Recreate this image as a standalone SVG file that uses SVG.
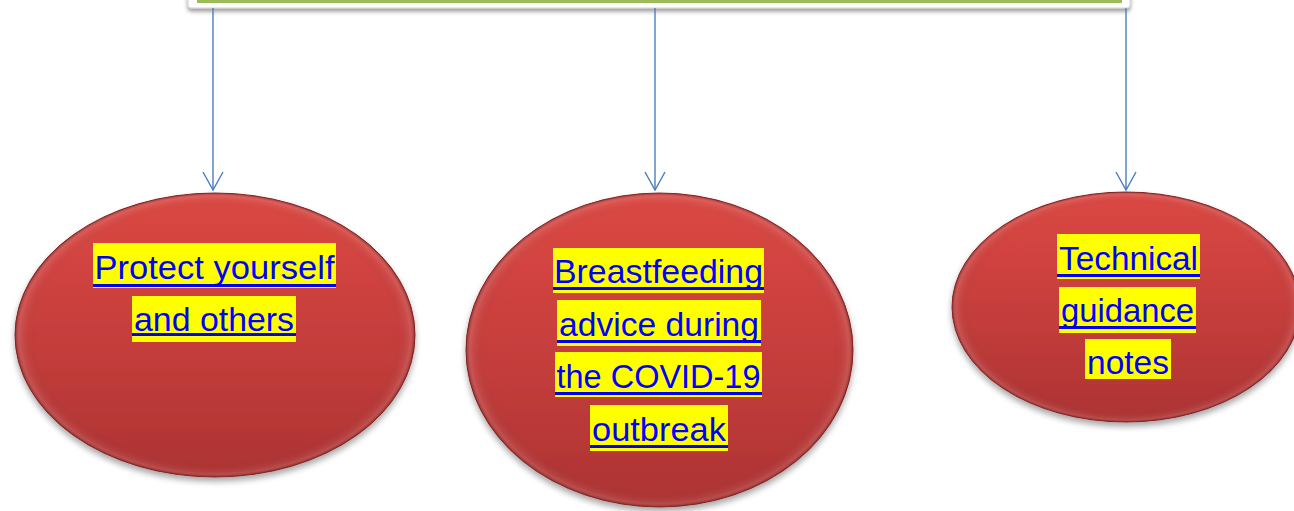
<svg xmlns="http://www.w3.org/2000/svg" width="1294" height="511" viewBox="0 0 1294 511">
<style>
.conn{stroke:#4a7ebb;stroke-width:1.4;fill:none;marker-end:url(#chev)}
.hl{fill:#ffff00}
.ul{fill:#0000ff}
.lbl{font-family:"Liberation Sans",Arial,sans-serif;font-size:33px;fill:#0000ff;text-anchor:middle}
.oval{fill:url(#redGrad);stroke:#8e2626;stroke-width:1;filter:url(#shadow)}
.bevel{fill:url(#bevelGrad)}
</style>
<defs>
<linearGradient id="redGrad" x1="0" y1="0" x2="0" y2="1">
<stop offset="0" stop-color="#dc4844"/>
<stop offset="0.5" stop-color="#c63e3c"/>
<stop offset="1" stop-color="#ad3333"/>
</linearGradient>
<radialGradient id="bevelGrad" cx="0.5" cy="0.5" r="0.5">
<stop offset="0.9" stop-color="#000" stop-opacity="0"/>
<stop offset="0.97" stop-color="#ffffff" stop-opacity="0.08"/>
<stop offset="1" stop-color="#5a1010" stop-opacity="0.45"/>
</radialGradient>
<filter id="shadow" x="-10%" y="-10%" width="120%" height="125%">
<feGaussianBlur in="SourceAlpha" stdDeviation="3"/>
<feOffset dy="4" result="b"/>
<feComponentTransfer><feFuncA type="linear" slope="0.35"/></feComponentTransfer>
<feMerge><feMergeNode/><feMergeNode in="SourceGraphic"/></feMerge>
</filter>
<filter id="boxShadow" x="-5%" y="-50%" width="110%" height="300%">
<feGaussianBlur in="SourceAlpha" stdDeviation="2"/>
<feOffset dy="3"/>
<feComponentTransfer><feFuncA type="linear" slope="0.4"/></feComponentTransfer>
<feMerge><feMergeNode/><feMergeNode in="SourceGraphic"/></feMerge>
</filter>
<marker id="chev" markerUnits="userSpaceOnUse" viewBox="-22 -12 24 24" refX="0" refY="0" markerWidth="24" markerHeight="24" orient="auto" overflow="visible">
<path d="M-18,-10 L0,0 L-18,10" fill="none" stroke="#4a7ebb" stroke-width="1.4"/>
</marker>
</defs>

<g id="top-box">
<rect x="188" y="-12" width="942" height="20" rx="3" fill="#ffffff" stroke="#d0d0d0" stroke-width="1" filter="url(#boxShadow)"/>
<rect x="197" y="-2" width="925" height="5" fill="#9bbb59"/>
</g>

<g id="connectors">
<line class="conn" x1="213" y1="8" x2="213" y2="190"/>
<line class="conn" x1="655" y1="8" x2="655" y2="190"/>
<line class="conn" x1="1126" y1="8" x2="1126" y2="190"/>
</g>

<g id="node-protect">
<ellipse class="oval" cx="215" cy="335" rx="200" ry="142"/>
<ellipse class="bevel" cx="215" cy="335" rx="200" ry="142"/>
<rect class="hl" x="93" y="243" width="243" height="45"/>
<rect class="hl" x="132" y="296" width="164" height="46"/>
<rect class="ul" x="93" y="284" width="243" height="3"/>
<rect class="ul" x="132" y="333" width="164" height="3"/>
<text class="lbl" x="214.5" y="279" textLength="240" lengthAdjust="spacingAndGlyphs">Protect yourself</text>
<text class="lbl" x="214" y="331" textLength="160" lengthAdjust="spacingAndGlyphs">and others</text>
</g>

<g id="node-breastfeeding">
<ellipse class="oval" cx="659.5" cy="350" rx="193.5" ry="157"/>
<ellipse class="bevel" cx="659.5" cy="350" rx="193.5" ry="157"/>
<rect class="hl" x="553" y="248" width="211" height="45"/>
<rect class="hl" x="557" y="300" width="204" height="46"/>
<rect class="hl" x="555" y="352" width="207" height="45"/>
<rect class="hl" x="590" y="405" width="138" height="46"/>
<rect class="ul" x="553" y="287" width="211" height="3"/>
<rect class="ul" x="557" y="340" width="204" height="3"/>
<rect class="ul" x="555" y="392" width="207" height="3"/>
<rect class="ul" x="590" y="445" width="138" height="3"/>
<text class="lbl" x="658.5" y="283" textLength="209" lengthAdjust="spacingAndGlyphs">Breastfeeding</text>
<text class="lbl" x="659" y="336" textLength="200" lengthAdjust="spacingAndGlyphs">advice during</text>
<text class="lbl" x="658.5" y="388" textLength="204" lengthAdjust="spacingAndGlyphs">the COVID-19</text>
<text class="lbl" x="659" y="441" textLength="134" lengthAdjust="spacingAndGlyphs">outbreak</text>
</g>

<g id="node-technical">
<ellipse class="oval" cx="1126" cy="307" rx="174" ry="115"/>
<ellipse class="bevel" cx="1126" cy="307" rx="174" ry="115"/>
<rect class="hl" x="1057" y="234" width="143" height="45"/>
<rect class="hl" x="1059" y="287" width="137" height="46"/>
<rect class="hl" x="1085" y="339" width="86" height="40"/>
<rect class="ul" x="1057" y="274" width="143" height="3"/>
<rect class="ul" x="1059" y="326" width="137" height="3"/>
<text class="lbl" x="1128.5" y="270" textLength="139" lengthAdjust="spacingAndGlyphs">Technical</text>
<text class="lbl" x="1127.5" y="322" textLength="133" lengthAdjust="spacingAndGlyphs">guidance</text>
<text class="lbl" x="1128" y="374" textLength="82" lengthAdjust="spacingAndGlyphs">notes</text>
</g>
</svg>
